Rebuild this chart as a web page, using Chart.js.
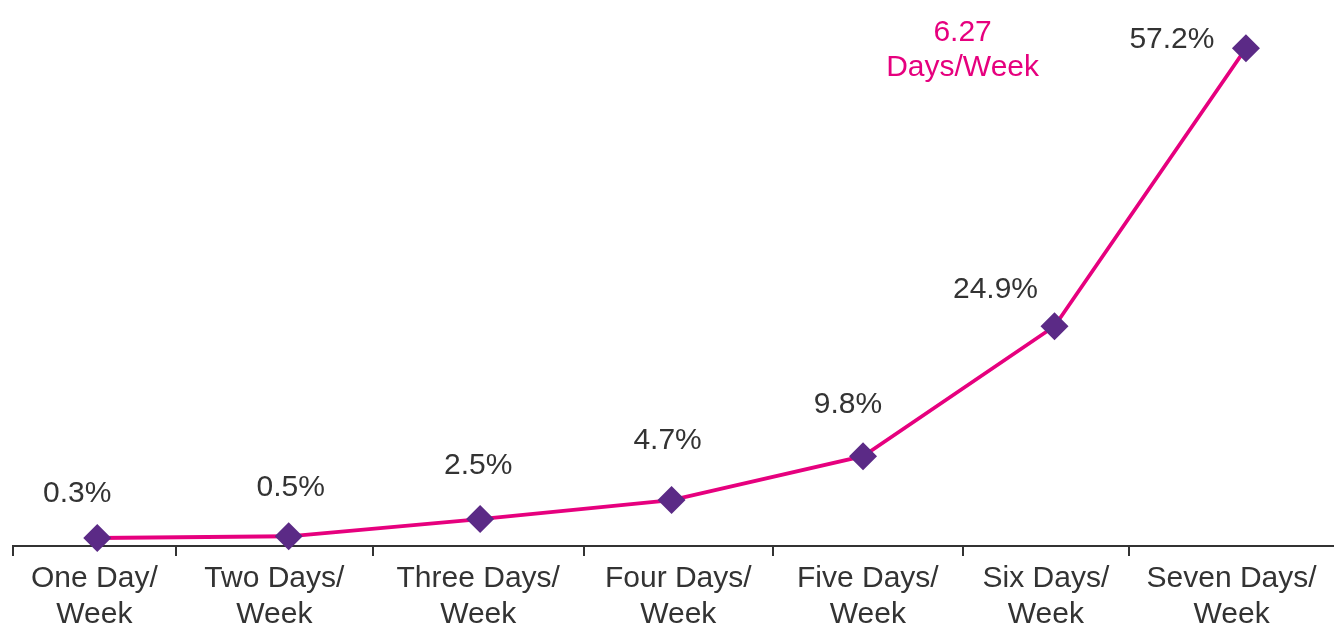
<!DOCTYPE html>
<html>
<head>
<meta charset="utf-8">
<script src="https://cdn.jsdelivr.net/npm/chart.js@4/dist/chart.umd.min.js"></script>
<style>
  html, body { margin: 0; padding: 0; background: #ffffff; }
  #wrap { width: 1334px; height: 628px; position: relative; }
</style>
</head>
<body>
<div id="wrap"><canvas id="c" width="1334" height="628"></canvas></div>
<script>
// ---- data ----
const categories = [
  ["One Day/", "Week"],
  ["Two Days/", "Week"],
  ["Three Days/", "Week"],
  ["Four Days/", "Week"],
  ["Five Days/", "Week"],
  ["Six Days/", "Week"],
  ["Seven Days/", "Week"]
];
const shares = [0.3, 0.5, 2.5, 4.7, 9.8, 24.9, 57.2];
const shareLabels = ["0.3%", "0.5%", "2.5%", "4.7%", "9.8%", "24.9%", "57.2%"];
const averageNote = ["6.27", "Days/Week"];
// category divider positions (in category-index units) for the axis tick marks
const dividers = [-0.44, 0.41, 1.44, 2.54, 3.53, 4.52, 5.39, 6.46];

// label offsets (px) relative to each point
const labelOffsets = [[-20, -44], [2, -49], [-2, -53], [-4, -59], [-15, -51], [-59, -37], [-74, -8]];

const FONT = "'Liberation Sans', Arial, Helvetica, sans-serif";
const MAGENTA = '#e6007e';
const PURPLE = '#5b2a86';
const TEXT = '#333333';

const points = shares.map((v, i) => ({ x: i, y: v }));
// category labels sit centred between neighbouring dividers
const labelCentres = categories.map((c, i) => (dividers[i] + dividers[i + 1]) / 2);

const decorPlugin = {
  id: 'decor',
  afterDatasetsDraw(chart) {
    const ctx = chart.ctx;
    const xs = chart.scales.x, ys = chart.scales.y;
    const meta = chart.getDatasetMeta(0);
    // divider tick marks
    ctx.save();
    ctx.strokeStyle = TEXT;
    ctx.lineWidth = 2;
    const axisY = chart.chartArea.bottom;
    dividers.slice(0, -1).forEach(d => {
      const px = Math.round(xs.getPixelForValue(d));
      ctx.beginPath();
      ctx.moveTo(px, axisY - 1);
      ctx.lineTo(px, axisY + 10);
      ctx.stroke();
    });
    // value labels
    ctx.fillStyle = TEXT;
    ctx.font = '30px ' + FONT;
    ctx.textAlign = 'center';
    ctx.textBaseline = 'middle';
    meta.data.forEach((pt, i) => {
      const off = labelOffsets[i];
      ctx.fillText(shareLabels[i], pt.x + off[0], pt.y + off[1]);
    });
    // average annotation
    ctx.fillStyle = MAGENTA;
    const ax = xs.getPixelForValue(4.52);
    const ay = ys.getPixelForValue(59.0);
    ctx.fillText(averageNote[0], ax, ay);
    ctx.fillText(averageNote[1], ax, ay + 35);
    ctx.restore();
  }
};

new Chart(document.getElementById('c'), {
  type: 'line',
  data: {
    datasets: [{
      data: points,
      borderColor: MAGENTA,
      borderWidth: 3.8,
      tension: 0,
      pointStyle: 'rectRot',
      pointRadius: 14,
      pointHoverRadius: 14,
      pointBackgroundColor: PURPLE,
      pointBorderWidth: 0,
      clip: false
    }]
  },
  options: {
    responsive: false,
    animation: false,
    events: [],
    layout: { autoPadding: false, padding: { left: 13, right: 0, top: 0, bottom: 0 } },
    plugins: { legend: { display: false }, tooltip: { enabled: false } },
    scales: {
      x: {
        type: 'linear',
        min: dividers[0],
        max: dividers[dividers.length - 1],
        afterBuildTicks(scale) {
          scale.ticks = labelCentres.map(v => ({ value: v }));
        },
        afterFit(scale) {
          scale.height = 82;
          scale.paddingLeft = 0;
          scale.paddingRight = 0;
        },
        grid: { display: false, drawTicks: false },
        border: { display: true, color: TEXT, width: 2 },
        ticks: {
          autoSkip: false,
          maxRotation: 0,
          padding: 15,
          color: TEXT,
          font: { family: FONT, size: 30, lineHeight: 1.2 },
          callback: (v, i) => categories[i]
        }
      },
      y: {
        display: false,
        min: -0.63,
        max: 62.8
      }
    }
  },
  plugins: [decorPlugin]
});
</script>
</body>
</html>
